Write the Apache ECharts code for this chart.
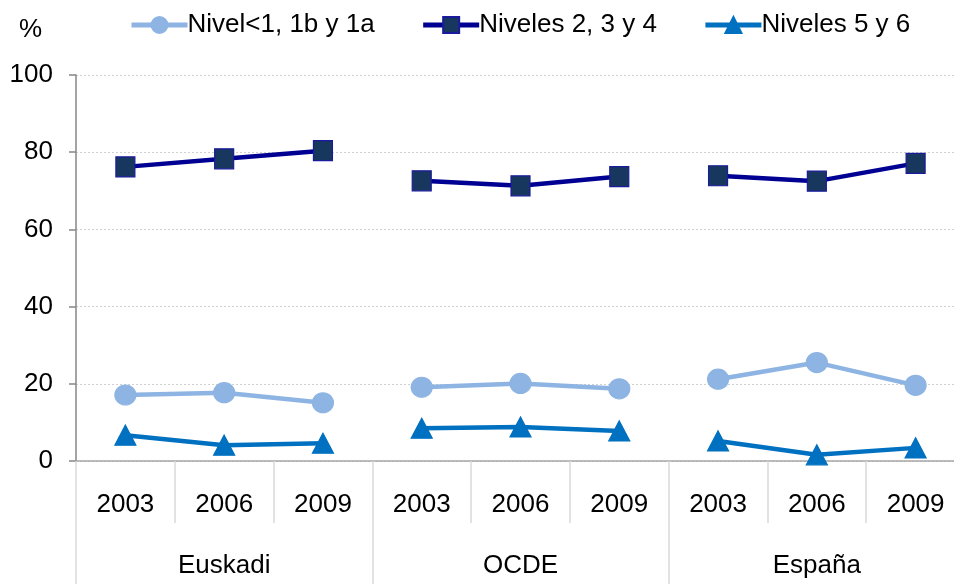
<!DOCTYPE html>
<html>
<head>
<meta charset="utf-8">
<script src="https://cdn.jsdelivr.net/npm/echarts@6/dist/echarts.min.js"></script>
<style>
  html, body { margin: 0; padding: 0; background: #fff; overflow: hidden; }
  #chart { width: 968px; height: 584px; }
</style>
</head>
<body>
<div id="chart"></div>
<script>
// datos
var years = ['2003', '2006', '2009', '2003', '2006', '2009', '2003', '2006', '2009'];
var groups = ['Euskadi', 'OCDE', 'España'];
var names = ['Nivel<1, 1b y 1a', 'Niveles 2, 3 y 4', 'Niveles 5 y 6'];
var nivelBajo = [17.1, 17.7, 15.1, 19.1, 20.1, 18.7, 21.2, 25.5, 19.6];
var nivelMedio = [76.2, 78.3, 80.4, 72.6, 71.3, 73.7, 73.9, 72.5, 77.1];
var nivelAlto = [6.7, 4.1, 4.6, 8.5, 8.8, 7.8, 5.2, 1.6, 3.4];
var yTicks = [0, 20, 40, 60, 80, 100];

var font = 'Liberation Sans, Arial, sans-serif';

// cada grupo va en su propia serie para que la linea se corte
function groupData(vals, g) {
    return vals.map(function (v, i) { return Math.floor(i / 3) === g ? v : null; });
}

var styles = [
    { symbol: 'circle', symbolSize: [21, 20], lineColor: '#8db4e2', fill: '#8db4e2', border: '#8db4e2' },
    { symbol: 'rect', symbolSize: [19, 20], lineColor: '#000092', fill: '#17375e', border: '#1a1a9c' },
    { symbol: 'triangle', symbolSize: [21, 20], lineColor: '#0070c0', fill: '#0070c0', border: '#0070c0' }
];
var allValues = [nivelBajo, nivelMedio, nivelAlto];

var series = [];
for (var s = 0; s < 3; s++) {
    for (var g = 0; g < groups.length; g++) {
        series.push({
            name: names[s],
            type: 'line',
            xAxisIndex: 0,
            data: groupData(allValues[s], g),
            symbol: styles[s].symbol,
            symbolSize: styles[s].symbolSize,
            showAllSymbol: true,
            lineStyle: { color: styles[s].lineColor, width: 4.5 },
            itemStyle: { color: styles[s].fill, borderColor: styles[s].border, borderWidth: 1.2 },
            emphasis: { disabled: true }
        });
    }
}

var chart = echarts.init(document.getElementById('chart'));
var option = {
    animation: false,
    title: {
        text: '%',
        left: 14,
        top: 12,
        textStyle: { fontFamily: font, fontSize: 26, fontWeight: 'normal', color: '#000' }
    },
    legend: {
        data: names,
        left: 124,
        top: 7,
        itemWidth: 56,
        itemHeight: 20,
        itemGap: 46,
        lineStyle: { width: 5 },
        textStyle: { fontFamily: font, fontSize: 26, color: '#000', padding: [0, 0, 0, -5] }
    },
    grid: { left: 76, top: 75, width: 889, height: 386 },
    xAxis: [
        {
            type: 'category',
            data: years,
            position: 'bottom',
            axisLine: { show: true, lineStyle: { color: '#a6a6a6', width: 1.5 } },
            axisTick: { show: true, interval: 0, length: 62, lineStyle: { color: '#d9d9d9', width: 1.5 } },
            axisLabel: { interval: 0, margin: 31, fontFamily: font, fontSize: 26, color: '#000' },
            splitLine: { show: false }
        },
        {
            type: 'category',
            data: groups,
            position: 'bottom',
            axisLine: { show: false },
            axisTick: { show: true, interval: 0, length: 130, lineStyle: { color: '#d9d9d9', width: 1.5 } },
            axisLabel: { interval: 0, margin: 92, fontFamily: font, fontSize: 26, color: '#000' },
            splitLine: { show: false }
        }
    ],
    yAxis: {
        type: 'value',
        min: yTicks[0],
        max: yTicks[yTicks.length - 1],
        interval: yTicks[1] - yTicks[0],
        axisLine: { show: true, lineStyle: { color: '#868686', width: 1.5 } },
        axisTick: { show: true, length: 7, lineStyle: { color: '#868686', width: 1.5 } },
        axisLabel: { margin: 23, fontFamily: font, fontSize: 26, color: '#000' },
        splitLine: { show: true, lineStyle: { color: '#d0d0d0', type: [2, 2], width: 1 } }
    },
    series: series
};
chart.setOption(option);
</script>
</body>
</html>
